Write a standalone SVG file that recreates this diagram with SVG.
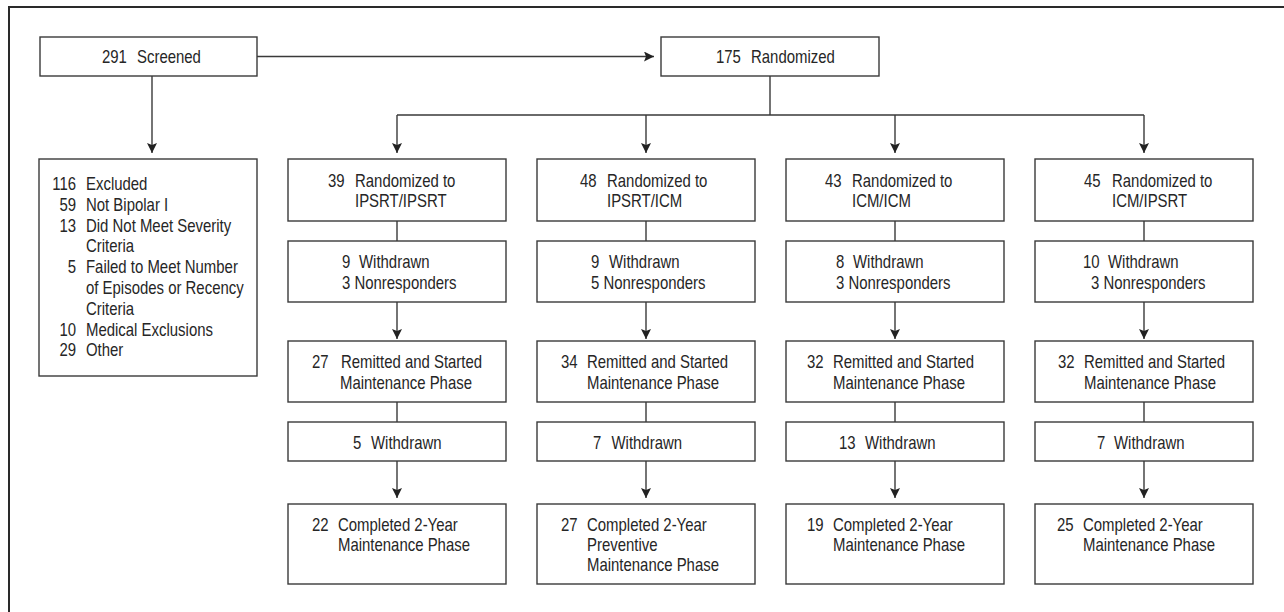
<svg xmlns="http://www.w3.org/2000/svg" width="1284" height="612" viewBox="0 0 1284 612">
<style>
.box{fill:#fff;stroke:#3a3a3a;stroke-width:1.4}
.ln{fill:none;stroke:#3a3a3a;stroke-width:1.4}
.arr{fill:none;stroke:#3a3a3a;stroke-width:1.4;marker-end:url(#ah)}
text{font-family:"Liberation Sans",Arial,sans-serif;font-size:18px;fill:#262626;transform:scaleX(0.83);transform-box:fill-box;transform-origin:0 0}
text.e{text-anchor:end;transform-origin:100% 0}
</style>
<defs>
<marker id="ah" viewBox="0 0 10 10" refX="10" refY="5" markerWidth="10" markerHeight="10" markerUnits="userSpaceOnUse" orient="auto">
<path d="M0,0 L10,5 L0,10 L2,5 z" fill="#222"/>
</marker>
</defs>
<rect width="1284" height="612" fill="#fff"/>
<g id="frame">
<path d="M9,612 V7 H1284" fill="none" stroke="#2a2a2a" stroke-width="2"/>
</g>
<g id="connectors">
<path class="arr" d="M257,56.5 H654"/>
<path class="arr" d="M152,76 V153"/>
<path class="ln" d="M770,76 V115 M397,115 H1144"/>
<path class="arr" d="M397,115 V153"/>
<path class="arr" d="M646,115 V153"/>
<path class="arr" d="M895,115 V153"/>
<path class="arr" d="M1144,115 V153"/>
<path class="ln" d="M397,221 V241 M646,221 V241 M895,221 V241 M1144,221 V241"/>
<path class="arr" d="M397,302 V339"/>
<path class="arr" d="M646,302 V339"/>
<path class="arr" d="M895,302 V339"/>
<path class="arr" d="M1144,302 V339"/>
<path class="ln" d="M397,402 V422 M646,402 V422 M895,402 V422 M1144,402 V422"/>
<path class="arr" d="M397,461 V498"/>
<path class="arr" d="M646,461 V498"/>
<path class="arr" d="M895,461 V498"/>
<path class="arr" d="M1144,461 V498"/>
</g>
<g id="screened">
<rect class="box" x="40" y="37" width="217" height="39"/>
<text x="102" y="63">291</text><text x="137" y="63">Screened</text>
</g>
<g id="randomized">
<rect class="box" x="661" y="37" width="218" height="39"/>
<text x="716" y="63">175</text><text x="751" y="63">Randomized</text>
</g>
<g id="excluded">
<rect class="box" x="39" y="159" width="218" height="217"/>
<text class="e" x="76" y="190">116</text><text x="86" y="190">Excluded</text>
<text class="e" x="76" y="210.8">59</text><text x="86" y="210.8">Not Bipolar I</text>
<text class="e" x="76" y="231.6">13</text><text x="86" y="231.6">Did Not Meet Severity</text>
<text x="86" y="252.4">Criteria</text>
<text class="e" x="76" y="273.2">5</text><text x="86" y="273.2">Failed to Meet Number</text>
<text x="86" y="294">of Episodes or Recency</text>
<text x="86" y="314.8">Criteria</text>
<text class="e" x="76" y="335.6">10</text><text x="86" y="335.6">Medical Exclusions</text>
<text class="e" x="76" y="356.4">29</text><text x="86" y="356.4">Other</text>
</g>
<g id="c1r1">
<rect class="box" x="288" y="159" width="218" height="62"/>
<text x="328" y="187">39</text><text x="355" y="187">Randomized to</text>
<text x="355" y="207">IPSRT/IPSRT</text>
</g>
<g id="c2r1">
<rect class="box" x="537" y="159" width="218" height="62"/>
<text x="580" y="187">48</text><text x="607" y="187">Randomized to</text>
<text x="607" y="207">IPSRT/ICM</text>
</g>
<g id="c3r1">
<rect class="box" x="786" y="159" width="218" height="62"/>
<text x="825" y="187">43</text><text x="852" y="187">Randomized to</text>
<text x="852" y="207">ICM/ICM</text>
</g>
<g id="c4r1">
<rect class="box" x="1035" y="159" width="218" height="62"/>
<text x="1084" y="187">45</text><text x="1112" y="187">Randomized to</text>
<text x="1112" y="207">ICM/IPSRT</text>
</g>
<g id="c1r2">
<rect class="box" x="288" y="241" width="218" height="61"/>
<text x="342" y="268">9</text><text x="359" y="268">Withdrawn</text>
<text x="342" y="289">3 Nonresponders</text>
</g>
<g id="c2r2">
<rect class="box" x="537" y="241" width="218" height="61"/>
<text x="591" y="268">9</text><text x="609" y="268">Withdrawn</text>
<text x="591" y="289">5 Nonresponders</text>
</g>
<g id="c3r2">
<rect class="box" x="786" y="241" width="218" height="61"/>
<text x="836" y="268">8</text><text x="853" y="268">Withdrawn</text>
<text x="836" y="289">3 Nonresponders</text>
</g>
<g id="c4r2">
<rect class="box" x="1035" y="241" width="218" height="61"/>
<text x="1083" y="268">10</text><text x="1108" y="268">Withdrawn</text>
<text x="1091" y="289">3 Nonresponders</text>
</g>
<g id="c1r3">
<rect class="box" x="288" y="341" width="218" height="61"/>
<text x="312" y="368.5">27</text><text x="341" y="368.5">Remitted and Started</text>
<text x="340" y="389">Maintenance Phase</text>
</g>
<g id="c2r3">
<rect class="box" x="537" y="341" width="218" height="61"/>
<text x="561" y="368.5">34</text><text x="587" y="368.5">Remitted and Started</text>
<text x="587" y="389">Maintenance Phase</text>
</g>
<g id="c3r3">
<rect class="box" x="786" y="341" width="218" height="61"/>
<text x="807" y="368.5">32</text><text x="833" y="368.5">Remitted and Started</text>
<text x="833" y="389">Maintenance Phase</text>
</g>
<g id="c4r3">
<rect class="box" x="1035" y="341" width="218" height="61"/>
<text x="1058" y="368.5">32</text><text x="1084" y="368.5">Remitted and Started</text>
<text x="1084" y="389">Maintenance Phase</text>
</g>
<g id="c1r4">
<rect class="box" x="288" y="422" width="218" height="39"/>
<text x="353" y="449">5</text><text x="371" y="449">Withdrawn</text>
</g>
<g id="c2r4">
<rect class="box" x="537" y="422" width="218" height="39"/>
<text x="593" y="449">7</text><text x="611.5" y="449">Withdrawn</text>
</g>
<g id="c3r4">
<rect class="box" x="786" y="422" width="218" height="39"/>
<text x="839" y="449">13</text><text x="865" y="449">Withdrawn</text>
</g>
<g id="c4r4">
<rect class="box" x="1035" y="422" width="218" height="39"/>
<text x="1097" y="449">7</text><text x="1114" y="449">Withdrawn</text>
</g>
<g id="c1r5">
<rect class="box" x="288" y="504" width="218" height="80"/>
<text x="312" y="531.5">22</text><text x="338" y="531.5">Completed 2-Year</text>
<text x="338" y="551.5">Maintenance Phase</text>
</g>
<g id="c2r5">
<rect class="box" x="537" y="504" width="218" height="80"/>
<text x="561" y="531.5">27</text><text x="587" y="531.5">Completed 2-Year</text>
<text x="587" y="551.5">Preventive</text>
<text x="587" y="571.5">Maintenance Phase</text>
</g>
<g id="c3r5">
<rect class="box" x="786" y="504" width="218" height="80"/>
<text x="807" y="531.5">19</text><text x="833" y="531.5">Completed 2-Year</text>
<text x="833" y="551.5">Maintenance Phase</text>
</g>
<g id="c4r5">
<rect class="box" x="1035" y="504" width="218" height="80"/>
<text x="1057" y="531.5">25</text><text x="1083" y="531.5">Completed 2-Year</text>
<text x="1083" y="551.5">Maintenance Phase</text>
</g>
</svg>
